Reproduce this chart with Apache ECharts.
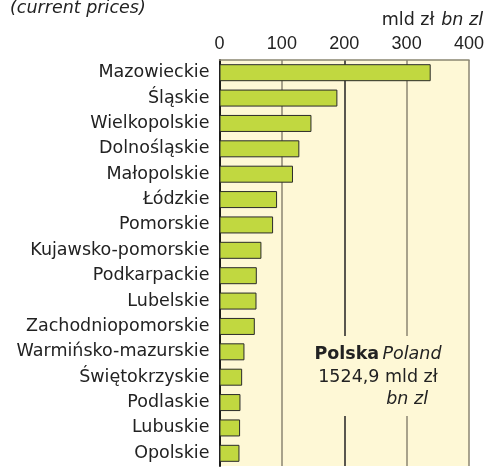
<!DOCTYPE html>
<html>
<head>
<meta charset="utf-8">
<script src="https://cdn.jsdelivr.net/npm/echarts@6/dist/echarts.min.js"></script>
<style>
  html, body { margin: 0; padding: 0; background: #fff; }
  #main { width: 488px; height: 468px; }
</style>
</head>
<body>
<div id="main"></div>
<script>
// regions, top to bottom
var regions = ['Mazowieckie', 'Śląskie', 'Wielkopolskie', 'Dolnośląskie', 'Małopolskie', 'Łódzkie',
  'Pomorskie', 'Kujawsko-pomorskie', 'Podkarpackie', 'Lubelskie', 'Zachodniopomorskie',
  'Warmińsko-mazurskie', 'Świętokrzyskie', 'Podlaskie', 'Lubuskie', 'Opolskie'];
// mld zł / bn zl
var gdpValues = [338.6, 189.0, 147.4, 128.0, 117.8, 92.3, 85.9, 67.2, 59.8, 59.3, 56.6, 40.0, 36.3, 33.6, 33.0, 32.0];
var tickValues = [0, 100, 200, 300, 400];

var FONT = '"DejaVu Sans", sans-serif';
var TICK_FONT = '"Liberation Sans", Arial, sans-serif';
var plotBg = '#fef8d6';

var myChart = echarts.init(document.getElementById('main'));

myChart.setOption({
  animation: false,
  textStyle: { fontFamily: FONT },
  grid: {
    left: 219.5,
    right: 19,
    top: 60,
    bottom: 2,
    show: true,
    backgroundColor: plotBg,
    borderWidth: 0
  },
  xAxis: {
    type: 'value',
    position: 'top',
    min: tickValues[0],
    max: tickValues[tickValues.length - 1],
    interval: 100,
    axisLine: { show: true, lineStyle: { color: '#8b8672', width: 1.5 } },
    axisTick: { show: false },
    axisLabel: { color: '#222', fontSize: 18, margin: 7, fontFamily: TICK_FONT },
    splitLine: {
      show: true,
      lineStyle: {
        // 0, 100, 200, 300, 400
        color: ['#222', '#8b8672', '#222', '#8b8672', '#8b8672'],
        width: 1.5
      }
    }
  },
  yAxis: {
    type: 'category',
    inverse: true,
    data: regions,
    axisLine: { show: true, lineStyle: { color: '#1a1a1a', width: 2 } },
    axisTick: { show: false },
    axisLabel: { color: '#222', fontSize: 17.5, margin: 10, fontFamily: FONT }
  },
  series: [{
    type: 'bar',
    data: gdpValues,
    barWidth: 17,
    itemStyle: {
      color: '#c1d840',
      borderColor: '#2a2a2a',
      borderWidth: 1
    }
  }],
  graphic: [
    {
      type: 'text', left: 10, top: -1,
      style: { text: '(current prices)', font: 'italic 17.5px ' + FONT, fill: '#222' }
    },
    {
      type: 'text', right: 5, top: 11,
      style: {
        text: '{n|mld zł}  {i|bn zl}',
        rich: {
          n: { font: '17.5px ' + FONT, fill: '#222' },
          i: { font: 'italic 17.5px ' + FONT, fill: '#222' }
        }
      }
    },
    {
      type: 'rect', z: 10,
      shape: { x: 300, y: 336, width: 160, height: 80 },
      style: { fill: plotBg }
    },
    {
      type: 'text', z: 11, x: 378, y: 345,
      style: {
        text: '{b|Polska} {i|Poland}',
        align: 'center',
        rich: {
          b: { font: 'bold 17.5px ' + FONT, fill: '#222' },
          i: { font: 'italic 17.5px ' + FONT, fill: '#222' }
        }
      }
    },
    {
      type: 'text', z: 11, x: 378, y: 368,
      style: { text: '1524,9 mld zł', align: 'center', font: '17.5px ' + FONT, fill: '#222' }
    },
    {
      type: 'text', z: 11, x: 428, y: 390,
      style: { text: 'bn zl', align: 'right', font: 'italic 17.5px ' + FONT, fill: '#222' }
    }
  ]
});
</script>
</body>
</html>
